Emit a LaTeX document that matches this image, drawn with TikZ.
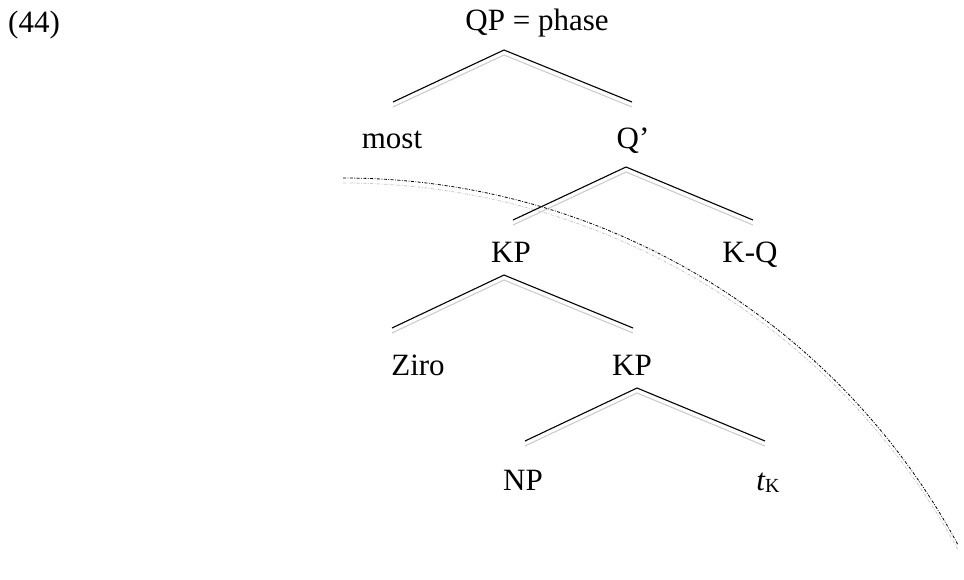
\documentclass[tikz,border=0pt]{standalone}
\usepackage{fontspec}
\setmainfont{Liberation Serif}
\begin{document}
\begin{tikzpicture}[x=1pt,y=1pt,
  lbl/.style={anchor=base,inner sep=0pt,font=\fontsize{31}{36}\selectfont},
  branch/.style={draw=black,line width=1.1pt},
  shadow/.style={draw=black!20,line width=1.1pt},
  arcline/.style={draw=black,line width=0.8pt,dash pattern=on 3pt off 1.5pt on 0.8pt off 1.5pt},
  arcshadow/.style={draw=black!22,line width=0.8pt,dash pattern=on 3pt off 1.5pt on 0.8pt off 1.5pt}]
\useasboundingbox (0,0) rectangle (964,-579);
% labels
\node[lbl,anchor=base west] (ex) at (8,-32) {(44)};
\node[lbl] (qp) at (537,-30) {QP = phase};
\node[lbl] (most) at (392,-148) {most};
\node[lbl] (qbar) at (633,-148) {Q’};
\node[lbl] (kp1) at (511,-262) {KP};
\node[lbl] (kq) at (750,-262) {K-Q};
\node[lbl] (ziro) at (418,-375) {Ziro};
\node[lbl] (kp2) at (632,-375) {KP};
\node[lbl] (np) at (523,-490) {NP};
\node[lbl] (tk) at (768,-490) {\itshape t\raisebox{-2.5pt}{\upshape\fontsize{20}{24}\selectfont K}};
% branch points
\coordinate (a1) at (504,-50);  \coordinate (l1) at (393,-102); \coordinate (r1) at (632,-102);
\coordinate (a2) at (626,-167); \coordinate (l2) at (513,-220); \coordinate (r2) at (753,-220);
\coordinate (a3) at (504,-275); \coordinate (l3) at (392,-328); \coordinate (r3) at (633,-328);
\coordinate (a4) at (637,-388); \coordinate (l4) at (525,-441); \coordinate (r4) at (765,-441);
\coordinate (arcstart) at (343,-178);
% shadows
\foreach \n in {1,2,3,4}{
  \draw[shadow] ([yshift=-5pt]l\n) -- ([yshift=-5pt]a\n) -- ([yshift=-5pt]r\n);
}
\draw[arcshadow] ([yshift=-5pt]arcstart) arc[start angle=90,end angle=28.4,radius=699pt];
% lines
\foreach \n in {1,2,3,4}{
  \draw[branch] (l\n) -- (a\n) -- (r\n);
}
\draw[arcline] (arcstart) arc[start angle=90,end angle=28.4,radius=699pt];
\end{tikzpicture}
\end{document}
